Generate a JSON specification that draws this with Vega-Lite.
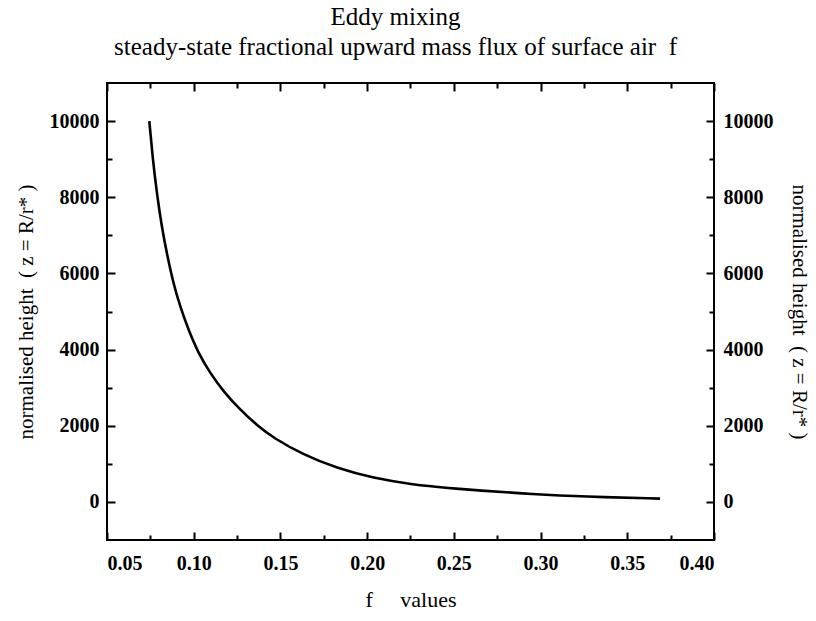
{
  "$schema": "https://vega.github.io/schema/vega-lite/v6.json",
  "autosize": "none",
  "width": 607,
  "height": 457,
  "padding": {"left": 107, "top": 83, "right": 102, "bottom": 81},
  "background": "white",
  "title": {
    "text": ["Eddy mixing", "steady-state fractional upward mass flux of surface air\u00a0\u00a0f"],
    "font": "Liberation Serif",
    "fontSize": 25,
    "fontWeight": "normal",
    "lineHeight": 30,
    "offset": 22,
    "dx": -15,
    "anchor": "middle",
    "color": "black"
  },
  "config": {
    "view": {"stroke": "black", "strokeWidth": 2},
    "axis": {
      "grid": false,
      "domain": false,
      "labelFont": "Liberation Serif",
      "labelFontWeight": "bold",
      "labelFontSize": 20,
      "labelColor": "black",
      "tickColor": "black",
      "tickWidth": 2,
      "titleFont": "Liberation Serif",
      "titleFontWeight": "normal",
      "titleFontSize": 21,
      "titleColor": "black"
    }
  },
  "data": {"values": [
    {"f": 0.0744, "z": 10000},
    {"f": 0.0764, "z": 9000},
    {"f": 0.0787, "z": 8124},
    {"f": 0.0815, "z": 7245},
    {"f": 0.0848, "z": 6455},
    {"f": 0.0882, "z": 5755},
    {"f": 0.0921, "z": 5139},
    {"f": 0.0969, "z": 4526},
    {"f": 0.1026, "z": 3913},
    {"f": 0.1094, "z": 3387},
    {"f": 0.1171, "z": 2903},
    {"f": 0.1267, "z": 2421},
    {"f": 0.1372, "z": 1982},
    {"f": 0.1459, "z": 1684},
    {"f": 0.1632, "z": 1237},
    {"f": 0.1824, "z": 887},
    {"f": 0.2035, "z": 624},
    {"f": 0.2266, "z": 450},
    {"f": 0.2478, "z": 361},
    {"f": 0.2632, "z": 305},
    {"f": 0.2958, "z": 203},
    {"f": 0.3246, "z": 139},
    {"f": 0.3689, "z": 87}
  ]},
  "resolve": {"axis": {"x": "independent", "y": "independent"}},
  "layer": [
    {
      "mark": {"type": "line", "color": "black", "strokeWidth": 2.6, "interpolate": "basis"},
      "encoding": {
        "x": {"field": "f", "type": "quantitative",
          "scale": {"domain": [0.05, 0.4], "nice": false, "zero": false},
          "axis": {"orient": "bottom", "values": [0.05, 0.1, 0.15, 0.2, 0.25, 0.3, 0.35, 0.4], "format": ".2f",
            "tickSize": -8, "labelPadding": 21, "title": "f\u00a0\u00a0\u00a0\u00a0\u00a0values", "titlePadding": 16, "titleFontSize": 22}},
        "y": {"field": "z", "type": "quantitative",
          "scale": {"domain": [-1000, 11000], "nice": false, "zero": false},
          "axis": {"orient": "left", "values": [0, 2000, 4000, 6000, 8000, 10000], "format": "d",
            "tickSize": -8, "labelPadding": 16, "title": "normalised height\u00a0\u00a0( z = R/r* )", "titlePadding": 13}}
      }
    },
    {
      "mark": {"type": "line", "opacity": 0},
      "encoding": {
        "x": {"field": "f", "type": "quantitative",
          "axis": {"orient": "top", "values": [0.05, 0.1, 0.15, 0.2, 0.25, 0.3, 0.35, 0.4],
            "tickSize": -8, "labels": false, "title": null}},
        "y": {"field": "z", "type": "quantitative",
          "axis": {"orient": "right", "values": [0, 2000, 4000, 6000, 8000, 10000], "format": "d",
            "tickSize": -8, "labelPadding": 17, "title": "normalised height\u00a0\u00a0( z = R/r* )", "titlePadding": 15}}
      }
    },
    {
      "mark": {"type": "line", "opacity": 0},
      "encoding": {
        "x": {"field": "f", "type": "quantitative",
          "axis": {"orient": "bottom", "values": [0.075, 0.125, 0.175, 0.225, 0.275, 0.325, 0.375],
            "tickSize": -5, "labels": false, "title": null}},
        "y": {"field": "z", "type": "quantitative",
          "axis": {"orient": "left", "values": [1000, 3000, 5000, 7000, 9000],
            "tickSize": -5, "labels": false, "title": null}}
      }
    },
    {
      "mark": {"type": "line", "opacity": 0},
      "encoding": {
        "x": {"field": "f", "type": "quantitative",
          "axis": {"orient": "top", "values": [0.075, 0.125, 0.175, 0.225, 0.275, 0.325, 0.375],
            "tickSize": -5, "labels": false, "title": null}},
        "y": {"field": "z", "type": "quantitative",
          "axis": {"orient": "right", "values": [1000, 3000, 5000, 7000, 9000],
            "tickSize": -5, "labels": false, "title": null}}
      }
    }
  ]
}
